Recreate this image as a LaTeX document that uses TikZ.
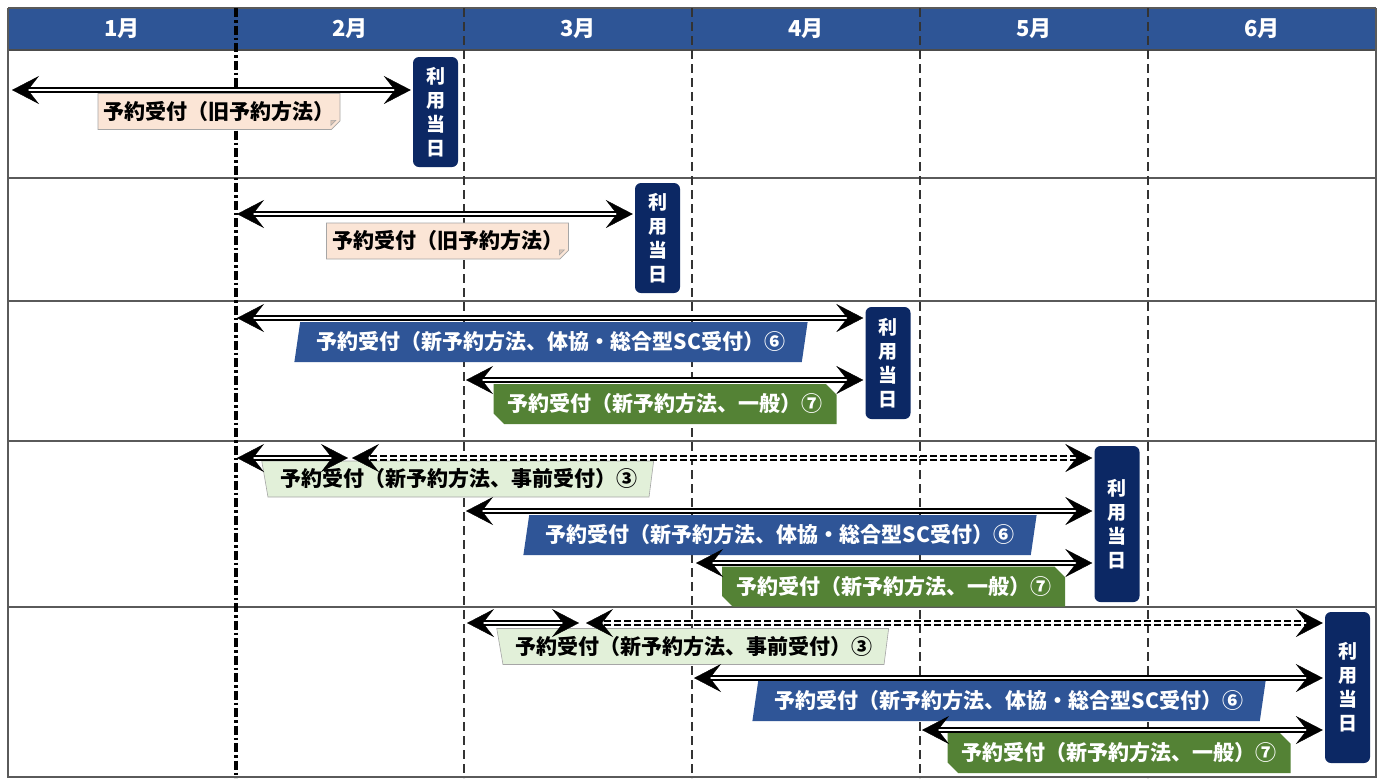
\documentclass[tikz,border=0pt]{standalone}
\usepackage{fontspec}
\setmainfont{Noto Sans CJK JP}
\usetikzlibrary{arrows.meta,shapes.geometric,shapes.misc,calc}
\definecolor{hdrblue}{HTML}{2E5596}
\definecolor{navy}{HTML}{0C2864}
\definecolor{lblblue}{HTML}{2F5597}
\definecolor{lblgreen}{HTML}{548235}
\definecolor{ltgreen}{HTML}{E2F0D9}
\definecolor{peach}{HTML}{FBE5D6}
\definecolor{peachdark}{HTML}{D9C3B4}
\definecolor{gridgray}{HTML}{5A5A5A}
\newcommand\dbl[3][]{\draw[shaft,#1] (#2) -- (#3); \draw[tipline,#1] (#2) -- (#3);}
\begin{document}
\begin{tikzpicture}[x=1pt,y=-1pt,
  shaft/.style={draw=black, double=white, line width=1.4pt, double distance=2.4pt, shorten <=8pt, shorten >=8pt},
  tipline/.style={draw=white, line width=0.4pt,
    {Stealth[length=27pt,width=28pt,inset=11pt,color=black]}-{Stealth[length=27pt,width=28pt,inset=11pt,color=black]}},
  dsh/.style={dash pattern=on 7pt off 3pt},
  month/.style={text=white, font=\fontsize{22}{26}\selectfont\bfseries, inner sep=0pt},
  day/.style={rectangle, rounded corners=6pt, fill=navy, text=white, minimum width=45pt, align=center, inner sep=0pt,
    font=\fontsize{19}{24}\selectfont\bfseries},
  lbl/.style={inner sep=0pt, font=\fontsize{21}{25}\selectfont\bfseries},
  old/.style={lbl, chamfered rectangle, chamfered rectangle corners=south east, chamfered rectangle xsep=5pt,
    fill=peach, draw=gray!70, line width=0.6pt, minimum width=242pt, minimum height=36pt},
  sc/.style={lbl, trapezium, trapezium left angle=75, trapezium right angle=105, trapezium stretches=true,
    fill=lblblue, text=white, minimum width=516pt, minimum height=40pt},
  pre/.style={lbl, trapezium, trapezium left angle=106, trapezium right angle=102, trapezium stretches=true,
    fill=ltgreen, draw=gray!70, line width=0.6pt, minimum width=393pt, minimum height=36pt},
  gen/.style={lbl, chamfered rectangle, chamfered rectangle corners={north east,south west}, chamfered rectangle xsep=7pt,
    fill=lblgreen, text=white, minimum width=343pt, minimum height=40pt},
  hline/.style={draw=gridgray, line width=1.3pt},
  vdash/.style={draw=black!80, line width=1.2pt, dash pattern=on 9pt off 5pt},
  vdashdot/.style={draw=black, line width=3.6pt, dash pattern=on 9pt off 3pt on 2.5pt off 3pt}
]
\useasboundingbox (0,0) rectangle (1383,780);
\fill[white] (0,0) rectangle (1383,780);
% header
\fill[hdrblue] (8,8) rectangle (1376,50);
\node[month] (h1) at (122,29) {1月};
\node[month] (h2) at (350,29) {2月};
\node[month] (h3) at (578,29) {3月};
\node[month] (h4) at (806,29) {4月};
\node[month] (h5) at (1034,29) {5月};
\node[month] (h6) at (1262,29) {6月};
% grid
\draw[hline] (8,8) -- (1376,8);
\draw[hline, draw=black!70] (8,50) -- (1376,50);
\foreach \y in {178,301,441,607,777} \draw[hline] (8,\y) -- (1376,\y);
\draw[hline] (8,8) -- (8,778);
\draw[hline] (1376,8) -- (1376,778);
\foreach \x in {464,692,920,1148} \draw[vdash] (\x,8) -- (\x,778);
\draw[vdashdot] (236,8) -- (236,778);
% day boxes
\node[day, minimum height=110pt] (d1) at (435.5,112) {利\\用\\当\\日};
\node[day, minimum height=110pt] (d2) at (657.5,238) {利\\用\\当\\日};
\node[day, minimum height=112pt] (d3) at (888,363) {利\\用\\当\\日};
\node[day, minimum height=156pt] (d4) at (1117,524) {利\\用\\当\\日};
\node[day, minimum height=151pt] (d5) at (1347.5,687.5) {利\\用\\当\\日};
% labels
\node[old] (o1) at (219,111.5) {予約受付（旧予約方法）};
\node[old] (o2) at (447.5,241) {予約受付（旧予約方法）};
\foreach \n in {o1,o2}
  \filldraw[fill=peachdark, draw=gray!70, line width=0.6pt]
    ([xshift=-5pt]\n.south east) -- ([xshift=-5pt,yshift=5pt]\n.south east) -- ([yshift=5pt]\n.south east) -- cycle;
\node[sc] (s3) at (551,342) {予約受付（新予約方法、体協・総合型SC受付）⑥};
\node[gen] (g3) at (665,404) {予約受付（新予約方法、一般）⑦};
\node[pre] (p4) at (458.5,479) {予約受付（新予約方法、事前受付）③};
\node[sc] (s4) at (780,535) {予約受付（新予約方法、体協・総合型SC受付）⑥};
\node[gen] (g4) at (893.5,586.5) {予約受付（新予約方法、一般）⑦};
\node[pre] (p5) at (693.5,646.5) {予約受付（新予約方法、事前受付）③};
\node[sc] (s5) at (1009,701) {予約受付（新予約方法、体協・総合型SC受付）⑥};
\node[gen] (g5) at (1119,753) {予約受付（新予約方法、一般）⑦};
% arrow end points
\coordinate (a1) at (12,90);
\coordinate (a2) at (237,214);
\coordinate (a3) at (237,318);
\coordinate (b3) at (466,380);
\coordinate (a4) at (237,458);
\coordinate (a4e) at (348,458);
\coordinate (c4) at (352,458);
\coordinate (b4) at (466,511);
\coordinate (e4) at (696,563);
\coordinate (a5) at (467,623);
\coordinate (a5e) at (579,623);
\coordinate (c5) at (586,623);
\coordinate (b5) at (694,678);
\coordinate (e5) at (922,730);
% arrows
\dbl{a1}{$(d1.west |- a1)+(-2,0)$}
\dbl{a2}{$(d2.west |- a2)+(-2,0)$}
\dbl{a3}{$(d3.west |- a3)+(-2,0)$}
\dbl{b3}{$(d3.west |- b3)+(-2,0)$}
\dbl{a4}{a4e}
\dbl[dsh]{c4}{$(d4.west |- c4)+(-2,0)$}
\dbl{b4}{$(d4.west |- b4)+(-2,0)$}
\dbl{e4}{$(d4.west |- e4)+(-2,0)$}
\dbl{a5}{a5e}
\dbl[dsh]{c5}{$(d5.west |- c5)+(-2,0)$}
\dbl{b5}{$(d5.west |- b5)+(-2,0)$}
\dbl{e5}{$(d5.west |- e5)+(-2,0)$}
\end{tikzpicture}
\end{document}
